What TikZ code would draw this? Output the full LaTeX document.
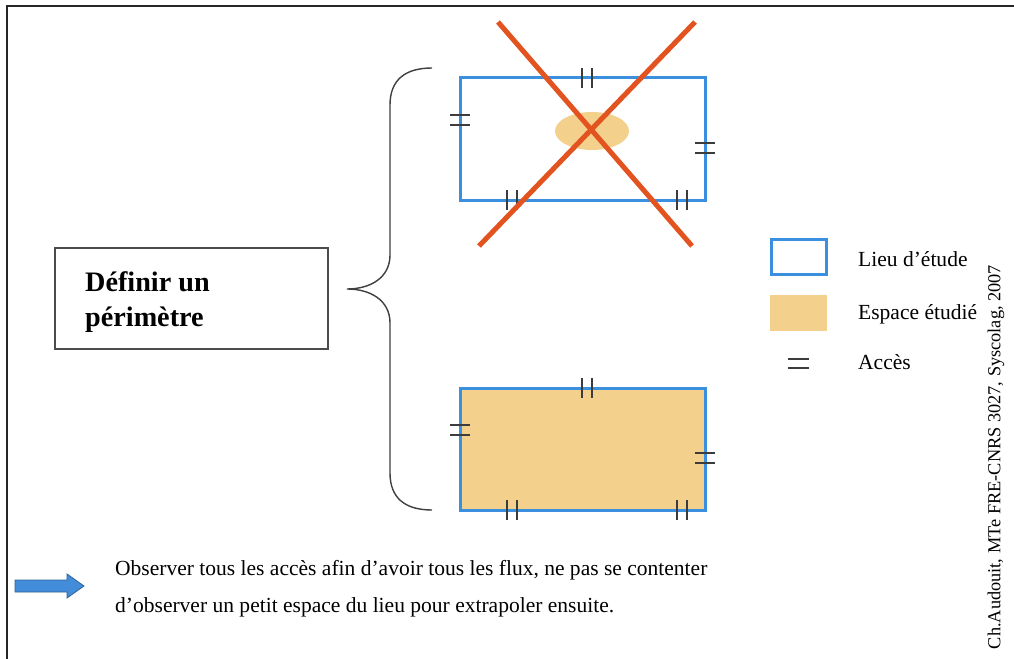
\documentclass[tikz,border=0pt]{standalone}
\usepackage{fontspec}
\setmainfont{Liberation Serif}
\usepackage{tikz}
\usepackage{xcolor}
\definecolor{lieublue}{RGB}{58,143,222}
\definecolor{espaceorange}{RGB}{243,208,140}
\definecolor{crossred}{RGB}{226,83,32}
\definecolor{arrowblue}{RGB}{66,140,218}
\definecolor{acces}{RGB}{60,60,60}

\begin{document}
\begin{tikzpicture}[x=1bp,y=-1bp,every node/.style={font=\fontsize{21.6}{25}\selectfont,inner sep=0pt}]
\useasboundingbox (0,0) rectangle (1014,659);
\fill[white] (0,0) rectangle (1014,659);
\draw[line width=2.2bp,black!85] (7,659) -- (7,6) -- (1014,6);
% boite titre
\draw[black!70,line width=1.2bp] (55,248) rectangle (328,349);
\node[anchor=west,align=left,font=\fontsize{28.3}{35}\selectfont\bfseries] (titre) at (85,302) {Définir un\\périmètre};
% accolade
\draw[black!75,line width=1.4bp] (432,68) .. controls (405,68) and (390,80) .. (390,105) -- (390,255)
  .. controls (390,278) and (370,289) .. (347,289)
  .. controls (370,289) and (390,300) .. (390,323) -- (390,473)
  .. controls (390,498) and (405,510) .. (432,510);
% lieu du haut
\draw[lieublue,line width=3bp] (460,78) rectangle (705,200);
\fill[espaceorange] (592,131) ellipse [x radius=37,y radius=19];
\draw[acces,line width=1.3bp] (582,68) -- (582,88) (592,68) -- (592,88);
\draw[acces,line width=1.3bp] (450,115) -- (470,115) (450,125) -- (470,125);
\draw[acces,line width=1.3bp] (695,143) -- (715,143) (695,153) -- (715,153);
\draw[acces,line width=1.3bp] (507,190) -- (507,210) (517,190) -- (517,210);
\draw[acces,line width=1.3bp] (677,190) -- (677,210) (687,190) -- (687,210);
\draw[crossred,line width=5bp] (498,22) -- (692,246);
\draw[crossred,line width=5bp] (695,22) -- (479,246);
% lieu du bas
\fill[espaceorange] (460,388) rectangle (705,510);
\draw[lieublue,line width=3bp] (460,388) rectangle (705,510);
\draw[acces,line width=1.3bp] (582,378) -- (582,398) (592,378) -- (592,398);
\draw[acces,line width=1.3bp] (450,425) -- (470,425) (450,435) -- (470,435);
\draw[acces,line width=1.3bp] (695,453) -- (715,453) (695,463) -- (715,463);
\draw[acces,line width=1.3bp] (507,500) -- (507,520) (517,500) -- (517,520);
\draw[acces,line width=1.3bp] (677,500) -- (677,520) (687,500) -- (687,520);
% legende
\draw[lieublue,line width=3bp] (771,239) rectangle (826,274);
\node[anchor=west] (lieu) at (858,259) {Lieu d'étude};
\fill[espaceorange] (770,295) rectangle (827,331);
\node[anchor=west] (espace) at (858,314) {Espace étudié};
\draw[acces,line width=1.3bp] (788,359) -- (809,359) (788,368) -- (809,368);
\node[anchor=west] (acceslbl) at (858,362) {Accès};
% fleche et conclusion
\filldraw[fill=arrowblue,draw=arrowblue!70!black,line width=0.8bp]
  (15,580) -- (67,580) -- (67,574) -- (84,586) -- (67,598) -- (67,592) -- (15,592) -- cycle;
\node[anchor=west] (obs1) at (115,570) {Observer tous les accès afin d'avoir tous les flux, ne pas se contenter};
\node[anchor=west] (obs2) at (115,607) {d'observer un petit espace du lieu pour extrapoler ensuite.};
% source
\node[rotate=90,anchor=center,font=\fontsize{18.4}{21}\selectfont] (source) at (996,457) {Ch.Audouit, MTe FRE-CNRS 3027, Syscolag, 2007};
\end{tikzpicture}
\end{document}
